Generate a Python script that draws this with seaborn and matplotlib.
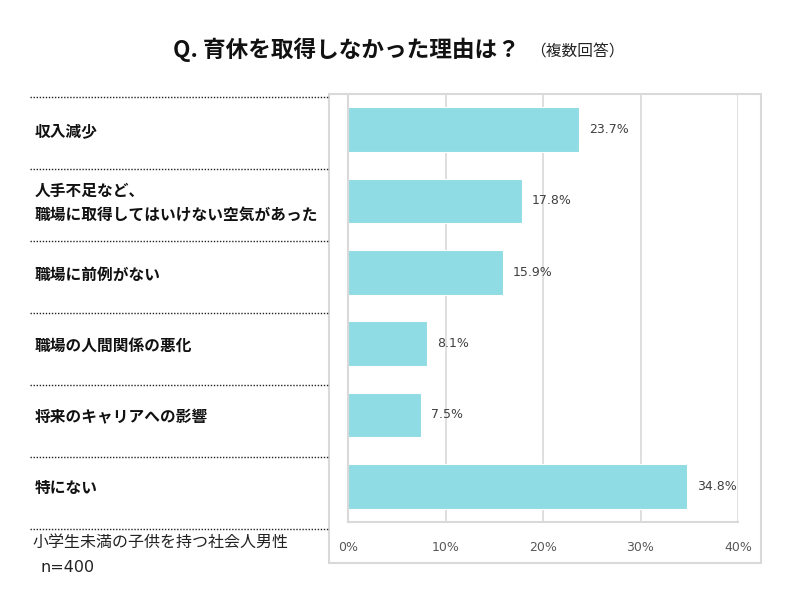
import matplotlib
matplotlib.use("Agg")
import matplotlib.pyplot as plt
import matplotlib.transforms as mtransforms
from matplotlib.patches import Rectangle
from matplotlib.lines import Line2D
import seaborn as sns
import pandas as pd

categories = ["収入減少",
              "人手不足など、\n職場に取得してはいけない空気があった",
              "職場に前例がない",
              "職場の人間関係の悪化",
              "将来のキャリアへの影響",
              "特にない"]
values = [23.7, 17.8, 15.9, 8.1, 7.5, 34.8]
xticks = [0, 10, 20, 30, 40]
xtick_labels = ["0%", "10%", "20%", "30%", "40%"]
title = "Q. 育休を取得しなかった理由は？"
subtitle = "（複数回答）"
note1 = "小学生未満の子供を持つ社会人男性"
note2 = "n=400"

sns.set_theme(style="white")
plt.rcParams['font.family'] = ['Noto Sans CJK JP', 'DejaVu Sans']

W, H = 792, 608
fig = plt.figure(figsize=(W / 100, H / 100), dpi=100)
fig.patch.set_facecolor("white")

def fx(px):
    return px / W

def fy(py):
    return 1 - py / H

ax = fig.add_axes([fx(348), fy(522), fx(738) - fx(348), fy(94) - fy(522)])
df = pd.DataFrame({"cat": categories, "val": values})
sns.barplot(data=df, y="cat", x="val", orient="h", color="#8fdce5",
            saturation=1, width=0.63, edgecolor="white", linewidth=0.8, ax=ax)

ax.set_xlim(0, 40)
ax.set_ylim(len(categories) - 0.5, -0.5)
ax.set_xticks(xticks)
ax.set_xticklabels(xtick_labels, fontsize=9, color="#595959", family=['DejaVu Sans'])
ax.tick_params(axis="x", length=0, pad=14)
ax.set_yticks([])
ax.set_xlabel("")
ax.set_ylabel("")
ax.grid(axis="x", color="#d9d9d9", linewidth=1.2)
ax.set_axisbelow(True)
for s in ["top", "right"]:
    ax.spines[s].set_visible(False)
for s in ["left", "bottom"]:
    ax.spines[s].set_color("#d9d9d9")
    ax.spines[s].set_linewidth(1.5)

for i, v in enumerate(values):
    ax.text(v + 1.0, i, f"{v:.1f}%", va="center", ha="left", fontsize=9,
            color="#404040", family=['DejaVu Sans'])

# outer box
fig.patches.append(Rectangle((fx(329), fy(563)), fx(761) - fx(329), fy(94) - fy(563),
                             transform=fig.transFigure, fill=False,
                             edgecolor="#d9d9d9", linewidth=1.5))

# left category labels with dotted separators
trans = mtransforms.blended_transform_factory(fig.transFigure, ax.transData)
for i, c in enumerate(categories):
    ax.text(fx(35), i + 0.03, c, transform=trans, ha="left", va="center",
            fontsize=11.3, fontweight="bold", color="#111111", linespacing=1.7,
            clip_on=False)
for py in [97, 169, 241, 313, 385, 457, 529]:
    fig.lines.append(Line2D([fx(30), fx(329)], [fy(py), fy(py)],
                            transform=fig.transFigure, color="#222222",
                            linewidth=1.0, linestyle=(0, (1, 1.2))))

# title
fig.text(fx(173), fy(50), title, fontsize=16.3, fontweight="bold",
         color="#111111", ha="left", va="center")
fig.text(fx(530), fy(52), subtitle, fontsize=11.3, color="#222222",
         ha="left", va="center")

# notes
fig.text(fx(33), fy(542), note1, fontsize=11.5, color="#222222", ha="left", va="center")
fig.text(fx(40), fy(568), note2, fontsize=11.5, color="#222222", ha="left", va="center",
         family=['DejaVu Sans'])

fig.savefig("out.png", dpi=100, facecolor="white")
